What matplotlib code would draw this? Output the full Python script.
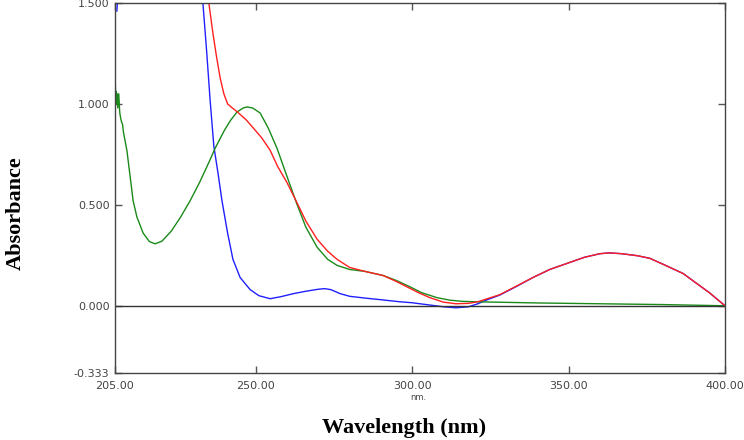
import matplotlib.pyplot as plt
import numpy as np
import matplotlib

matplotlib.rcParams['font.family'] = 'DejaVu Sans'

# spectra (wavelength nm, absorbance)
wl_blue = [205.6, 206.2, 207.5, 210, 220, 230, 233.1, 234.3, 235.4, 236.6, 238, 239.2, 241, 242.7,
           245, 248.2, 251, 254.6, 258, 262, 266, 270, 272, 274, 277, 280, 285, 290, 296, 300,
           305, 310, 314, 318, 321, 324, 328, 333, 338.6, 344, 349.5, 355, 360, 363, 367, 372,
           376, 381, 386.6, 391, 395, 400]
abs_blue = [1.46, 1.62, 2.0, 2.5, 2.8, 2.1, 1.5, 1.26, 1.02, 0.79, 0.65, 0.52, 0.36, 0.23,
            0.14, 0.08, 0.05, 0.035, 0.045, 0.06, 0.072, 0.082, 0.085, 0.08, 0.06, 0.047, 0.038, 0.03, 0.02, 0.015,
            0.005, -0.005, -0.01, -0.005, 0.01, 0.03, 0.053, 0.093, 0.14, 0.18, 0.21, 0.24, 0.258, 0.262, 0.258, 0.248,
            0.235, 0.2, 0.16, 0.11, 0.065, 0.0]

wl_red = [225, 232, 235, 236.3, 237.5, 238.6, 239.8, 241, 242.5, 244, 247, 249.8, 252, 254.6, 257, 260,
          263.2, 266, 269.6, 273, 276, 280, 285, 290.7, 295, 298.3, 302, 305.7, 310, 314, 318, 321, 324,
          328, 333, 338.6, 344, 349.5, 355, 360, 363, 367, 372, 376, 381, 386.6, 391, 395, 400]
abs_red = [2.6, 1.7, 1.5, 1.35, 1.23, 1.13, 1.05, 1.0, 0.98, 0.962, 0.92, 0.87, 0.83, 0.77, 0.69, 0.61,
           0.51, 0.42, 0.33, 0.27, 0.23, 0.19, 0.17, 0.15, 0.12, 0.094, 0.065, 0.04, 0.018, 0.01, 0.012, 0.02, 0.035,
           0.055, 0.095, 0.14, 0.18, 0.21, 0.24, 0.258, 0.262, 0.258, 0.248, 0.235, 0.2, 0.16, 0.11, 0.065, 0.0]

wl_green = [205.0, 205.1, 205.25, 205.4, 205.55, 205.7, 205.9, 206.2, 206.5, 206.8, 207.1, 207.4, 207.7,
            208.8, 210, 210.8, 212, 214, 216, 217.8, 220, 223, 226, 229, 232, 235, 237, 240, 242,
            244, 246, 247.2, 249, 251.4, 254, 256.8, 260, 263, 266, 269.6, 273, 276, 280, 285,
            290.7, 295, 299.3, 303, 308, 312, 316, 320, 330, 340, 350, 360, 370, 380, 390, 400]
abs_green = [1.22, 1.10, 1.03, 1.06, 1.0, 1.05, 0.98, 1.05, 0.96, 0.93, 0.91, 0.9, 0.86,
             0.77, 0.62, 0.52, 0.44, 0.36, 0.318, 0.307, 0.32, 0.37, 0.44, 0.52, 0.61, 0.71, 0.78, 0.87, 0.92,
             0.96, 0.98, 0.985, 0.98, 0.955, 0.88, 0.78, 0.64, 0.51, 0.39, 0.29, 0.23, 0.2, 0.18, 0.17,
             0.15, 0.125, 0.094, 0.065, 0.04, 0.028, 0.022, 0.02, 0.017, 0.014, 0.012, 0.01, 0.008, 0.006, 0.003, 0.0]

yticks = [-0.333, 0.0, 0.5, 1.0, 1.5]
ytick_labels = ['-0.333', '0.000', '0.500', '1.000', '1.500']
xticks = [205, 250, 300, 350, 400]
xtick_labels = ['205.00', '250.00', '300.00', '350.00', '400.00']

fig = plt.figure(figsize=(7.44, 4.40), dpi=100)
ax = fig.add_axes([115/744, 67/440, 610/744, 370/440])

ax.plot(wl_blue, abs_blue, color='#2020ff', lw=1)
ax.plot(wl_green, abs_green, color='#1a8a1a', lw=1)
ax.plot(wl_red, abs_red, color='#ff2020', lw=1)
ax.axhline(0, color='#333333', lw=1)

ax.set_xlim(205, 400)
ax.set_ylim(-0.333, 1.5)
ax.set_xticks(xticks)
ax.set_xticklabels(xtick_labels)
ax.set_yticks(yticks)
ax.set_yticklabels(ytick_labels)
ax.tick_params(direction='in', length=5, width=1, color='#555555', labelcolor='#444444',
               labelsize=8, top=True, right=True)
ax.tick_params(axis='x', pad=5.5)
ax.tick_params(axis='y', pad=4)
for s in ax.spines.values():
    s.set_color('#444444')
    s.set_linewidth(1)

fig.text(418/744, 1 - 397/440, 'nm.', ha='center', va='center', fontsize=6, color='#444444')
fig.text(404/744, 1 - 428/440, 'Wavelength (nm)', ha='center', va='center',
         fontsize=16, fontweight='bold', family='Liberation Serif')
fig.text(16/744, 1 - 213/440, 'Absorbance', ha='center', va='center', rotation=90,
         fontsize=16, fontweight='bold', family='Liberation Serif')

fig.savefig('out.png', dpi=100)
